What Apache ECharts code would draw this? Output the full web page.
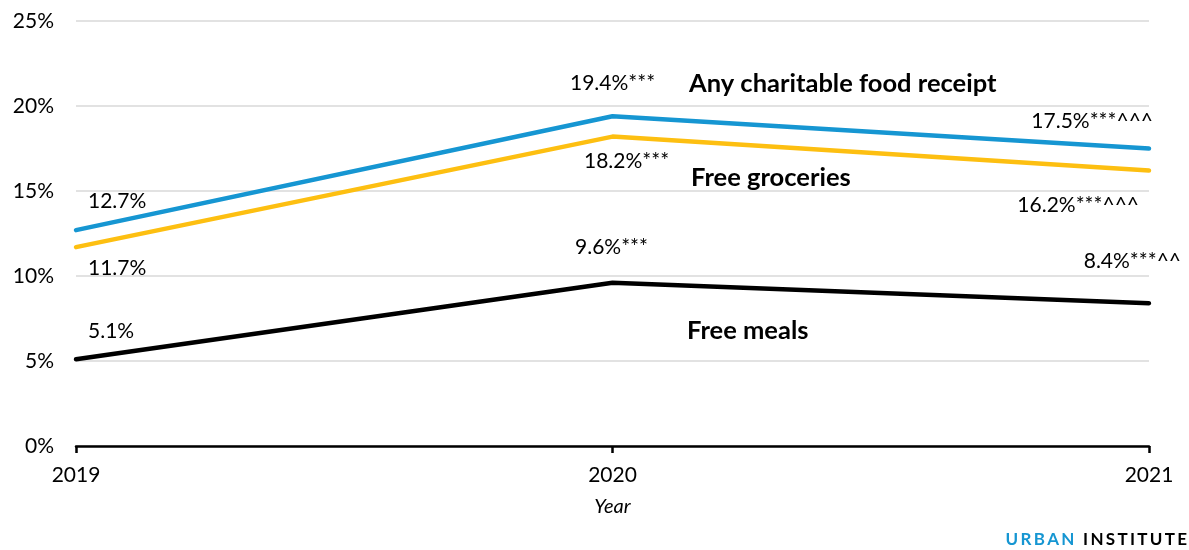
<!DOCTYPE html>
<html>
<head>
<meta charset="utf-8">
<script src="https://cdn.jsdelivr.net/npm/echarts@6/dist/echarts.min.js"></script>
<style>
  html, body { margin: 0; padding: 0; background: #fff; }
  #chart { width: 1189px; height: 550px; }
</style>
</head>
<body>
<div id="chart"></div>
<script>
// Share of adults reporting charitable food receipt, by year
const years = ['2019', '2020', '2021'];
const anyCharitable = [12.7, 19.4, 17.5];
const freeGroceries = [11.7, 18.2, 16.2];
const freeMeals = [5.1, 9.6, 8.4];
// Significance markers shown after each value
const anyMarks = ['', '***', '***^^^'];
const groceryMarks = ['', '***', '***^^^'];
const mealMarks = ['', '***', '***^^'];
const seriesNames = ['Any charitable food receipt', 'Free groceries', 'Free meals'];
const yTicks = [0, 5, 10, 15, 20, 25];

const FONT = 'Lato, "Open Sans", sans-serif';

// Label placement relative to each point: [align, dx, dy]
const anyPlace = [['left', 12, -29], ['center', 0, -33], ['right', 4, -27]];
const groceryPlace = [['left', 12, 21], ['center', 14, 25], ['right', -10, 35]];
const mealPlace = [['left', 12, -28], ['center', -1, -36], ['right', 32, -42]];

function buildData(values, marks, place) {
  return values.map((v, i) => ({
    value: v,
    label: {
      show: true,
      position: 'inside',
      align: place[i][0],
      verticalAlign: 'middle',
      offset: [place[i][1], place[i][2]],
      formatter: v.toFixed(1) + '%' + marks[i],
      color: '#000',
      fontFamily: FONT,
      fontSize: 21
    }
  }));
}

function lineSeries(name, values, marks, place, color) {
  return {
    name: name,
    type: 'line',
    data: buildData(values, marks, place),
    symbol: 'circle',
    symbolSize: 1,
    showSymbol: true,
    lineStyle: { color: color, width: 4.5, cap: 'round' },
    itemStyle: { color: color },
    emphasis: { disabled: true },
    animation: false
  };
}

// Letter-spaced wordmark built from individual glyphs
function spacedWord(parts, fontSize, spacing, rightEdge, centerY) {
  const ctx = document.createElement('canvas').getContext('2d');
  const font = 'bold ' + fontSize + 'px ' + FONT;
  ctx.font = font;
  const glyphs = [];
  parts.forEach(p => {
    for (const ch of p.text) glyphs.push({ ch: ch, color: p.color, w: ctx.measureText(ch).width });
  });
  const total = glyphs.reduce((s, g) => s + g.w, 0) + spacing * (glyphs.length - 1);
  let x = rightEdge - total;
  return glyphs.map(g => {
    const el = {
      type: 'text', silent: true, x: x, y: centerY,
      style: { text: g.ch, font: font, fill: g.color, textVerticalAlign: 'middle', verticalAlign: 'middle' }
    };
    x += g.w + spacing;
    return el;
  });
}

const chart = echarts.init(document.getElementById('chart'), null, { renderer: 'canvas' });

const nameStyle = { fontFamily: FONT, fontWeight: 'bold', fontSize: 25.5, fill: '#000' };

chart.setOption({
  backgroundColor: '#fff',
  animation: false,
  grid: { left: 76, right: 40, top: 21, bottom: 104, containLabel: false },
  xAxis: {
    type: 'category',
    data: years,
    boundaryGap: false,
    name: 'Year',
    nameLocation: 'middle',
    nameGap: 51,
    nameTextStyle: { fontFamily: FONT, fontSize: 20, fontStyle: 'italic', color: '#000' },
    axisLine: { lineStyle: { color: '#000', width: 2.5 } },
    axisTick: { show: true, length: 7, alignWithLabel: true, lineStyle: { color: '#000', width: 2.5 } },
    axisLabel: { fontFamily: FONT, fontSize: 21, color: '#000', margin: 19 },
    splitLine: { show: false }
  },
  yAxis: {
    type: 'value',
    min: yTicks[0],
    max: yTicks[yTicks.length - 1],
    interval: yTicks[1] - yTicks[0],
    axisLine: { show: false },
    axisTick: { show: false },
    axisLabel: {
      fontFamily: FONT, fontSize: 21, color: '#000', margin: 22,
      formatter: v => v + '%'
    },
    splitLine: { lineStyle: { color: '#d9d9d9', width: 1.5 } }
  },
  series: [
    lineSeries(seriesNames[2], freeMeals, mealMarks, mealPlace, '#000000'),
    lineSeries(seriesNames[1], freeGroceries, groceryMarks, groceryPlace, '#fdbf11'),
    lineSeries(seriesNames[0], anyCharitable, anyMarks, anyPlace, '#1696d2')
  ],
  graphic: [
    { type: 'text', left: 689, top: 71, silent: true, style: Object.assign({ text: seriesNames[0] }, nameStyle) },
    { type: 'text', left: 691, top: 165, silent: true, style: Object.assign({ text: seriesNames[1] }, nameStyle) },
    { type: 'text', left: 687, top: 318, silent: true, style: Object.assign({ text: seriesNames[2] }, nameStyle) }
  ].concat(spacedWord(
    [{ text: 'URBAN', color: '#1696d2' }, { text: ' ', color: '#000' }, { text: 'INSTITUTE', color: '#000' }],
    17, 2.3, 1187, 540
  ))
});
</script>
</body>
</html>
